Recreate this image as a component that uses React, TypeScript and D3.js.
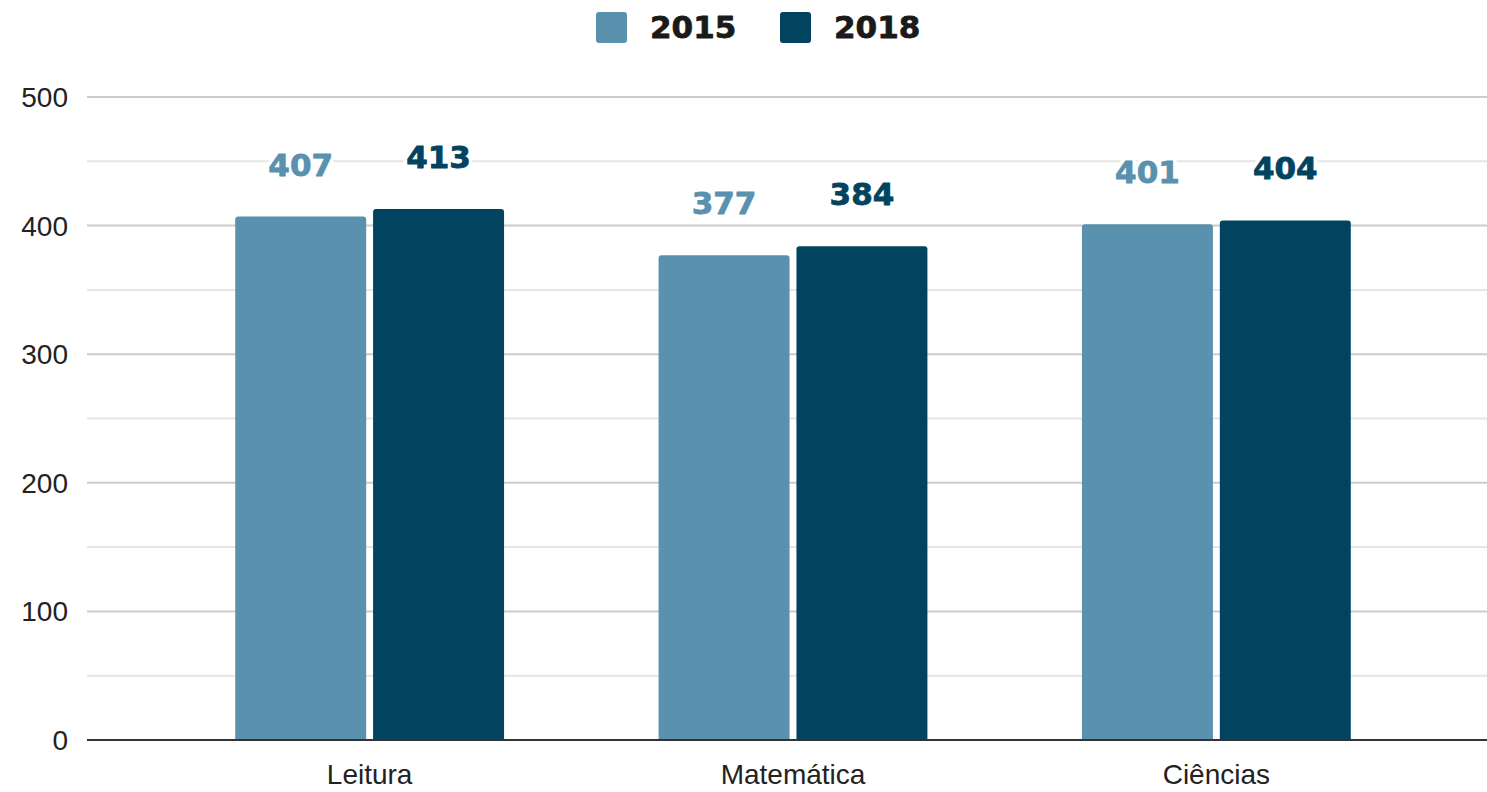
import React from "react";
import * as d3 from "d3";

const categories = ["Leitura", "Matemática", "Ciências"];
const seriesNames = ["2015", "2018"];
const values2015 = [407, 377, 401];
const values2018 = [413, 384, 404];
const yTicks = [0, 100, 200, 300, 400, 500];
const yMinorTicks = [50, 150, 250, 350, 450];
const colors = ["#5a91ae", "#02445f"];

const W = 1487;
const H = 792;

export default function App() {
  const y = d3.scaleLinear().domain([0, 500]).range([740, 97]);
  const x = d3.scaleBand().domain(categories).range([159, 1427]).paddingInner(0.365).paddingOuter(0.18);
  const xs = d3.scaleBand().domain(seriesNames).range([0, x.bandwidth()]).paddingInner(0.05);
  const series = [values2015, values2018];
  const gridL = 87;
  const gridR = 1487;
  const font = "'Liberation Sans', Arial, sans-serif";
  const heavy = "'DejaVu Sans', Verdana, sans-serif";
  const r = 3;
  const barPath = (x0: number, w: number, yTop: number, yBot: number) =>
    `M${x0},${yBot}V${yTop + r}Q${x0},${yTop} ${x0 + r},${yTop}H${x0 + w - r}Q${x0 + w},${yTop} ${x0 + w},${yTop + r}V${yBot}Z`;

  return (
    <svg width={W} height={H} style={{ position: "absolute", left: 0, top: 0, background: "#fff" }}>
      {yMinorTicks.map((t) => (
        <line key={"m" + t} x1={gridL} x2={gridR} y1={y(t)} y2={y(t)} stroke="#e6e6e6" strokeWidth={2} />
      ))}
      {yTicks.filter((t) => t > 0).map((t) => (
        <line key={"g" + t} x1={gridL} x2={gridR} y1={y(t)} y2={y(t)} stroke="#cccccc" strokeWidth={2} />
      ))}
      {yTicks.map((t) => (
        <text key={"t" + t} x={68} y={y(t)} dy="0.36em" textAnchor="end" fontFamily={font} fontSize={28} fill="#222">
          {t}
        </text>
      ))}
      {categories.map((c, i) =>
        series.map((vals, s) => {
          const x0 = (x(c) as number) + (xs(seriesNames[s]) as number);
          const w = xs.bandwidth();
          return (
            <path key={c + s} d={barPath(x0, w, y(vals[i]), y(0))} fill={colors[s]} />
          );
        })
      )}
      <line x1={gridL} x2={gridR} y1={y(0)} y2={y(0)} stroke="#333" strokeWidth={2} />
      {categories.map((c, i) =>
        series.map((vals, s) => {
          const cx = (x(c) as number) + (xs(seriesNames[s]) as number) + xs.bandwidth() / 2;
          const ty = y(vals[i]) - 41;
          return (
            <g key={"l" + c + s}>
              <text x={cx} y={ty} textAnchor="middle" fontFamily={heavy} fontWeight="bold" fontSize={31}
                fill="#fff" stroke="#fff" strokeWidth={8} strokeLinejoin="round">
                {vals[i]}
              </text>
              <text x={cx} y={ty} textAnchor="middle" fontFamily={heavy} fontWeight="bold" fontSize={31}
                fill={colors[s]} stroke={colors[s]} strokeWidth={0.8} strokeLinejoin="round">
                {vals[i]}
              </text>
            </g>
          );
        })
      )}
      {categories.map((c) => (
        <text key={"c" + c} x={(x(c) as number) + x.bandwidth() / 2} y={784} textAnchor="middle"
          fontFamily={font} fontSize={28} fill="#222">
          {c}
        </text>
      ))}
      {seriesNames.map((n, s) => {
        const lx = [596, 780][s];
        return (
          <g key={"lg" + n}>
            <rect x={lx} y={12} width={31} height={31} rx={3} fill={colors[s]} />
            <text x={lx + 54} y={38} fontFamily={heavy} fontWeight="bold" fontSize={31} fill="#1a1a1a"
              stroke="#1a1a1a" strokeWidth={0.8} strokeLinejoin="round">
              {n}
            </text>
          </g>
        );
      })}
    </svg>
  );
}
